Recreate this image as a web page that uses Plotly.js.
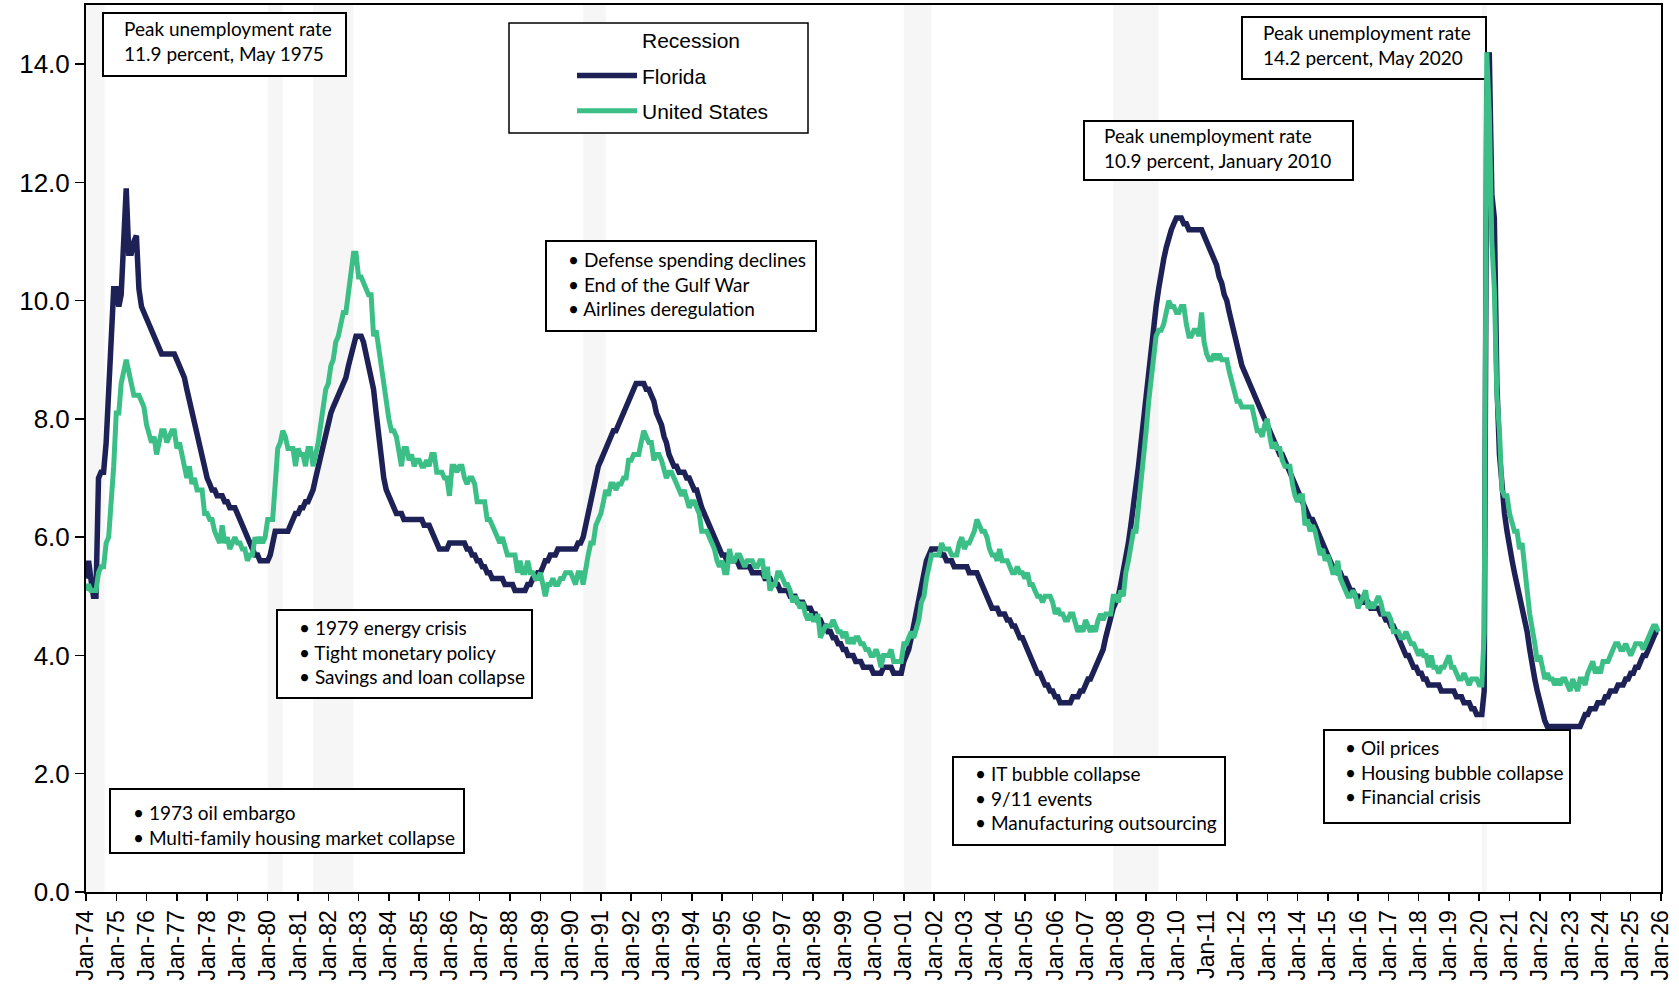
<!DOCTYPE html>
<html><head><meta charset="utf-8">
<script src="https://cdn.plot.ly/plotly-3.0.1.min.js"></script>
<style>html,body{margin:0;padding:0;background:#fff}#chart{width:1679px;height:986px}</style>
</head><body><div id="chart"></div>
<script>
// ---- DATA ----
const startYear = 1974;
const floridaRate = [
5.3,5.6,5.3,5.0,5.0,7.0,7.1,7.1,7.6,8.4,9.3,10.2,
10.2,9.9,10.1,11.0,11.9,10.8,10.8,11.0,11.1,10.2,9.9,9.8,
9.7,9.6,9.5,9.4,9.3,9.2,9.1,9.1,9.1,9.1,9.1,9.1,
9.0,8.9,8.8,8.7,8.5,8.3,8.1,7.9,7.7,7.5,7.4,7.2,
7.0,6.9,6.8,6.8,6.7,6.7,6.7,6.6,6.6,6.5,6.5,6.5,
6.4,6.3,6.2,6.1,6.0,5.9,5.8,5.7,5.7,5.6,5.6,5.6,
5.6,5.7,5.9,6.1,6.1,6.1,6.1,6.1,6.1,6.2,6.3,6.4,
6.4,6.5,6.5,6.6,6.6,6.7,6.8,7.0,7.2,7.4,7.6,7.8,
7.9,8.1,8.2,8.3,8.4,8.5,8.6,8.7,8.9,9.1,9.3,9.4,
9.4,9.4,9.3,9.1,8.9,8.7,8.5,8.1,7.7,7.3,7.0,6.8,
6.7,6.6,6.5,6.4,6.4,6.4,6.3,6.3,6.3,6.3,6.3,6.3,
6.3,6.3,6.2,6.2,6.2,6.1,6.0,5.9,5.8,5.8,5.8,5.8,
5.9,5.9,5.9,5.9,5.9,5.9,5.9,5.8,5.8,5.7,5.7,5.6,
5.6,5.5,5.5,5.4,5.4,5.3,5.3,5.3,5.3,5.3,5.2,5.2,
5.2,5.2,5.1,5.1,5.1,5.1,5.1,5.2,5.2,5.3,5.3,5.4,
5.4,5.5,5.6,5.6,5.7,5.7,5.7,5.8,5.8,5.8,5.8,5.8,
5.8,5.8,5.8,5.9,5.9,6.0,6.2,6.4,6.6,6.8,7.0,7.2,
7.3,7.4,7.5,7.6,7.7,7.8,7.8,7.9,8.0,8.1,8.2,8.3,
8.4,8.5,8.6,8.6,8.6,8.6,8.5,8.5,8.4,8.3,8.1,8.0,
7.9,7.7,7.6,7.4,7.3,7.2,7.2,7.1,7.1,7.1,7.0,7.0,
6.9,6.8,6.8,6.6,6.5,6.4,6.3,6.2,6.1,6.0,5.9,5.8,
5.7,5.7,5.6,5.6,5.6,5.6,5.6,5.5,5.5,5.5,5.5,5.5,
5.4,5.4,5.4,5.4,5.4,5.3,5.3,5.3,5.2,5.2,5.2,5.1,
5.1,5.1,5.1,5.0,5.0,5.0,4.9,4.9,4.9,4.8,4.8,4.8,
4.7,4.7,4.6,4.6,4.5,4.5,4.4,4.4,4.3,4.3,4.2,4.2,
4.1,4.1,4.0,4.0,4.0,3.9,3.9,3.9,3.8,3.8,3.8,3.8,
3.7,3.7,3.7,3.7,3.8,3.8,3.8,3.8,3.7,3.7,3.7,3.7,
3.9,4.0,4.1,4.3,4.5,4.7,4.9,5.2,5.4,5.6,5.7,5.8,
5.8,5.8,5.8,5.7,5.7,5.6,5.6,5.6,5.5,5.5,5.5,5.5,
5.5,5.5,5.4,5.4,5.4,5.4,5.3,5.2,5.1,5.0,4.9,4.8,
4.8,4.8,4.7,4.7,4.7,4.6,4.6,4.5,4.5,4.4,4.3,4.3,
4.2,4.1,4.0,3.9,3.8,3.7,3.7,3.6,3.5,3.5,3.4,3.4,
3.3,3.3,3.2,3.2,3.2,3.2,3.2,3.3,3.3,3.3,3.4,3.4,
3.5,3.6,3.6,3.7,3.8,3.9,4.0,4.1,4.3,4.5,4.7,4.8,
4.9,5.0,5.2,5.4,5.6,5.9,6.2,6.5,6.8,7.2,7.6,8.0,
8.4,8.8,9.2,9.6,9.9,10.2,10.5,10.7,10.9,11.1,11.2,11.3,
11.4,11.4,11.4,11.3,11.3,11.2,11.2,11.2,11.2,11.2,11.2,11.1,
11.0,10.9,10.8,10.7,10.6,10.4,10.3,10.1,10.0,9.8,9.6,9.4,
9.2,9.0,8.9,8.8,8.7,8.6,8.5,8.4,8.3,8.2,8.1,8.0,
7.9,7.8,7.7,7.6,7.5,7.4,7.4,7.3,7.2,7.1,7.0,6.9,
6.8,6.7,6.6,6.5,6.4,6.3,6.3,6.2,6.1,6.0,5.9,5.8,
5.7,5.6,5.5,5.5,5.4,5.4,5.3,5.3,5.2,5.1,5.1,5.0,
5.0,4.9,4.9,4.9,4.9,4.8,4.8,4.8,4.8,4.7,4.7,4.6,
4.6,4.5,4.5,4.4,4.3,4.2,4.1,4.0,4.0,3.9,3.8,3.8,
3.7,3.7,3.6,3.6,3.5,3.5,3.5,3.5,3.5,3.4,3.4,3.4,
3.4,3.4,3.4,3.3,3.3,3.3,3.2,3.2,3.2,3.1,3.1,3.0,
3.0,3.0,3.4,13.6,14.2,11.8,11.4,8.6,7.4,6.8,6.4,6.1,
5.9,5.6,5.4,5.2,5.0,4.8,4.6,4.4,4.1,3.8,3.6,3.4,
3.2,3.0,2.9,2.8,2.8,2.8,2.8,2.8,2.8,2.8,2.8,2.8,
2.8,2.8,2.8,2.8,2.8,2.9,3.0,3.0,3.1,3.1,3.1,3.2,
3.2,3.2,3.3,3.3,3.4,3.4,3.4,3.5,3.5,3.5,3.6,3.6,
3.7,3.7,3.8,3.8,3.9,4.0,4.0,4.1,4.2,4.3,4.4,4.4
];
const usRate = [
5.1,5.2,5.1,5.1,5.1,5.4,5.5,5.5,5.9,6.0,6.6,7.2,
8.1,8.1,8.6,8.8,9.0,8.8,8.6,8.4,8.4,8.4,8.3,8.2,
7.9,7.7,7.6,7.7,7.4,7.6,7.8,7.8,7.6,7.7,7.8,7.8,
7.5,7.6,7.4,7.2,7.0,7.2,6.9,7.0,6.8,6.8,6.8,6.4,
6.4,6.3,6.3,6.1,6.0,5.9,6.2,5.9,6.0,5.8,5.9,6.0,
5.9,5.9,5.8,5.8,5.6,5.7,5.7,6.0,5.9,6.0,5.9,6.0,
6.3,6.3,6.3,6.9,7.5,7.6,7.8,7.7,7.5,7.5,7.5,7.2,
7.5,7.4,7.4,7.2,7.5,7.5,7.2,7.4,7.6,7.9,8.3,8.5,
8.6,8.9,9.0,9.3,9.4,9.6,9.8,9.8,10.1,10.4,10.8,10.8,
10.4,10.4,10.3,10.2,10.1,10.1,9.4,9.5,9.2,8.8,8.5,8.3,
8.0,7.8,7.8,7.7,7.4,7.2,7.5,7.5,7.3,7.4,7.2,7.3,
7.3,7.2,7.2,7.3,7.2,7.4,7.4,7.1,7.1,7.1,7.0,7.0,
6.7,7.2,7.2,7.1,7.2,7.2,7.0,6.9,7.0,7.0,6.9,6.6,
6.6,6.6,6.6,6.3,6.3,6.2,6.1,6.0,5.9,6.0,5.8,5.7,
5.7,5.7,5.7,5.4,5.6,5.4,5.4,5.6,5.4,5.4,5.3,5.3,
5.4,5.2,5.0,5.2,5.2,5.3,5.2,5.2,5.3,5.3,5.4,5.4,
5.4,5.3,5.2,5.4,5.4,5.2,5.5,5.7,5.9,5.9,6.2,6.3,
6.4,6.6,6.8,6.7,6.9,6.9,6.8,6.9,6.9,7.0,7.0,7.3,
7.3,7.4,7.4,7.4,7.6,7.8,7.7,7.6,7.6,7.3,7.4,7.4,
7.3,7.1,7.0,7.1,7.1,7.0,6.9,6.8,6.7,6.8,6.6,6.5,
6.6,6.6,6.5,6.4,6.1,6.1,6.1,6.0,5.9,5.8,5.6,5.5,
5.6,5.4,5.4,5.8,5.6,5.6,5.7,5.7,5.6,5.5,5.6,5.6,
5.6,5.5,5.5,5.6,5.6,5.3,5.5,5.1,5.2,5.2,5.4,5.4,
5.3,5.2,5.2,5.1,4.9,5.0,4.9,4.8,4.9,4.7,4.6,4.7,
4.6,4.6,4.7,4.3,4.4,4.5,4.5,4.5,4.6,4.5,4.4,4.4,
4.3,4.4,4.2,4.3,4.2,4.3,4.3,4.2,4.2,4.1,4.1,4.0,
4.0,4.1,4.0,3.8,4.0,4.0,4.0,4.1,3.9,3.9,3.9,3.9,
4.2,4.2,4.3,4.4,4.3,4.5,4.6,4.9,5.0,5.3,5.5,5.7,
5.7,5.7,5.7,5.9,5.8,5.8,5.8,5.7,5.7,5.7,5.9,6.0,
5.8,5.9,5.9,6.0,6.1,6.3,6.2,6.1,6.1,6.0,5.8,5.7,
5.7,5.6,5.8,5.6,5.6,5.6,5.5,5.4,5.4,5.5,5.4,5.4,
5.3,5.4,5.2,5.2,5.1,5.0,5.0,4.9,5.0,5.0,5.0,4.9,
4.7,4.8,4.7,4.7,4.6,4.6,4.7,4.7,4.5,4.4,4.5,4.4,
4.6,4.5,4.4,4.5,4.4,4.6,4.7,4.6,4.7,4.7,4.7,5.0,
5.0,4.9,5.1,5.0,5.4,5.6,5.8,6.1,6.1,6.5,6.8,7.3,
7.8,8.3,8.7,9.0,9.4,9.5,9.5,9.6,9.8,10.0,9.9,9.9,
9.8,9.8,9.9,9.9,9.6,9.4,9.4,9.5,9.5,9.4,9.8,9.3,
9.1,9.0,9.0,9.1,9.0,9.1,9.0,9.0,9.0,8.8,8.6,8.5,
8.3,8.3,8.2,8.2,8.2,8.2,8.2,8.0,7.8,7.8,7.7,7.9,
8.0,7.7,7.5,7.6,7.5,7.5,7.3,7.2,7.2,7.2,6.9,6.7,
6.6,6.7,6.7,6.2,6.3,6.1,6.2,6.1,5.9,5.7,5.8,5.6,
5.7,5.5,5.4,5.4,5.6,5.3,5.2,5.1,5.0,5.0,5.1,5.0,
4.8,4.9,5.0,5.1,4.8,4.9,4.8,4.9,5.0,4.9,4.7,4.7,
4.7,4.6,4.4,4.4,4.4,4.3,4.3,4.4,4.3,4.2,4.2,4.1,
4.0,4.1,4.0,4.0,3.8,4.0,3.8,3.8,3.7,3.8,3.8,3.9,
4.0,3.8,3.8,3.7,3.6,3.6,3.7,3.6,3.5,3.6,3.6,3.6,
3.5,3.5,4.4,14.2,13.2,11.0,10.2,8.4,7.8,6.8,6.7,6.7,
6.4,6.2,6.1,6.1,5.8,5.9,5.4,5.1,4.7,4.5,4.2,3.9,
4.0,3.8,3.6,3.7,3.6,3.6,3.5,3.6,3.5,3.6,3.6,3.5,
3.4,3.6,3.5,3.4,3.6,3.6,3.5,3.7,3.8,3.9,3.7,3.8,
3.7,3.9,3.9,3.9,4.0,4.1,4.2,4.2,4.1,4.1,4.2,4.1,
4.0,4.1,4.2,4.2,4.2,4.1,4.2,4.3,4.4,4.5,4.5,4.4
];
const recessionStart = ['1974-01-01','1980-01-01','1981-07-01','1990-06-01','2001-01-01','2007-12-01','2020-02-01'];
const recessionEnd   = ['1974-08-15','1980-07-01','1982-11-01','1991-03-01','2001-12-01','2009-06-01','2020-04-01'];
const yTickVals = [0,2,4,6,8,10,12,14];
const seriesNames = ['Recession','Florida','United States'];
const noteTexts = [
  'Peak unemployment rate<br>11.9 percent, May 1975',
  'Peak unemployment rate<br>14.2 percent, May 2020',
  'Peak unemployment rate<br>10.9 percent, January 2010',
  '\u2022 Defense spending declines<br>\u2022 End of the Gulf War<br>\u2022 Airlines deregulation',
  '\u2022 1979 energy crisis<br>\u2022 Tight monetary policy<br>\u2022 Savings and loan collapse',
  '\u2022 1973 oil embargo<br>\u2022 Multi-family housing market collapse',
  '\u2022 IT bubble collapse<br>\u2022 9/11 events<br>\u2022 Manufacturing outsourcing',
  '\u2022 Oil prices<br>\u2022 Housing bubble collapse<br>\u2022 Financial crisis'
];

// ---- LAYOUT HELPERS (pixel placement of boxes) ----
const L = 86, R = 18, T = 5, B = 94, W = 1679, H = 986;
const PW = W - L - R, PH = H - T - B;
const px = x => (x - L) / PW;
const py = y => (H - B - y) / PH;
// box: [x0,y0,x1,y1,textLeft,textCenterY]
const noteBoxes = [
  [103,13,346,76,123,41],
  [1242,17,1486,79,1262,45],
  [1084,121,1353,180,1103,148],
  [546,241,816,331,567,284],
  [277,610,532,698,298,652],
  [110,789,464,853,132,825],
  [953,757,1225,845,974,798],
  [1324,730,1570,823,1344,772]
];

const dates = floridaRate.map((_, i) => {
  const yr = startYear + Math.floor(i / 12);
  const m = (i % 12) + 1;
  return yr + '-' + (m < 10 ? '0' + m : m) + '-01';
});

const traces = [
  {x:[null], y:[null], type:'scatter', mode:'lines', name:seriesNames[0], fill:'toself',
   fillcolor:'rgba(255,255,255,0)', line:{width:0, color:'rgba(255,255,255,0)'}, hoverinfo:'skip',
   legendgroup:'g0'},
  {x:dates, y:floridaRate, type:'scatter', mode:'lines', name:seriesNames[1],
   line:{color:'#1d2156', width:5.5}, legendgroup:'g1'},
  {x:dates, y:usRate, type:'scatter', mode:'lines', name:seriesNames[2],
   line:{color:'#3bbf86', width:5}, legendgroup:'g2'}
];

const shapes = [];
recessionStart.forEach((s, i) => {
  shapes.push({type:'rect', xref:'x', yref:'paper', x0:s, x1:recessionEnd[i], y0:0, y1:1,
    fillcolor:'rgba(0,0,0,0.035)', line:{width:0}, layer:'below'});
});
noteBoxes.forEach(b => {
  shapes.push({type:'rect', xref:'paper', yref:'paper', x0:px(b[0]), x1:px(b[2]), y0:py(b[3]), y1:py(b[1]),
    fillcolor:'#ffffff', line:{color:'#000', width:2}, layer:'below'});
});
// legend frame
shapes.push({type:'rect', xref:'paper', yref:'paper', x0:px(509), x1:px(808), y0:py(133), y1:py(23),
  fillcolor:'#ffffff', line:{color:'#000', width:1.5}, layer:'below'});

const annotations = noteBoxes.map((b, i) => ({
  xref:'paper', yref:'paper', x:px(b[4]), y:py(b[5]), xanchor:'left', yanchor:'middle',
  align:'left', showarrow:false, text:noteTexts[i], borderpad:0,
  font:{family:'Lato, sans-serif', size:19, color:'#000'}
}));

const layout = {
  width:W, height:H,
  margin:{l:L, r:R, t:T, b:B},
  paper_bgcolor:'#fff', plot_bgcolor:'#fff',
  showlegend:true,
  legend:{x:px(572), y:py(20), xanchor:'left', yanchor:'top', bgcolor:'rgba(0,0,0,0)',
    borderwidth:0, font:{family:'Liberation Sans, Arial, sans-serif', size:21, color:'#000'},
    itemwidth:60, tracegroupgap:5, traceorder:'grouped'},
  xaxis:{type:'date', range:['1974-01-01','2026-01-01'], tick0:'1974-01-01', dtick:'M12',
    tickformat:'%b-%y', tickangle:-90, ticks:'outside', ticklen:7, tickwidth:1.5, tickcolor:'#000',
    showline:true, linecolor:'#000', linewidth:2, mirror:true, showgrid:false, zeroline:false,
    tickfont:{family:'Liberation Sans, Arial, sans-serif', size:23, color:'#000'}},
  yaxis:{range:[0,15], tickvals:yTickVals, tickformat:'.1f', ticks:'outside', ticklen:9,
    tickwidth:1.5, tickcolor:'#000', showline:true, linecolor:'#000', linewidth:2, mirror:true,
    showgrid:false, zeroline:false,
    tickfont:{family:'Liberation Sans, Arial, sans-serif', size:26, color:'#000'}},
  shapes:shapes,
  annotations:annotations
};

Plotly.newPlot('chart', traces, layout, {displayModeBar:false, staticPlot:true});
</script>
</body></html>
